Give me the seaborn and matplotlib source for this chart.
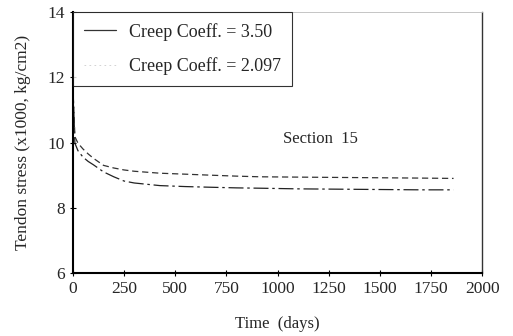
import matplotlib
matplotlib.use("Agg")
import matplotlib.pyplot as plt
import seaborn as sns
import pandas as pd
from matplotlib.lines import Line2D

days = [0, 5, 10, 25, 50, 75, 100, 150, 200, 250, 300, 425, 550, 670, 800, 914, 1100, 1300, 1500, 1700, 1860]
stress_350 = [11.7, 10.9, 9.98, 9.75, 9.55, 9.42, 9.32, 9.10, 8.95, 8.82, 8.76, 8.68, 8.65, 8.63, 8.61, 8.60, 8.58, 8.57, 8.56, 8.55, 8.55]
stress_2097 = [11.7, 11.0, 10.18, 9.98, 9.80, 9.65, 9.52, 9.30, 9.22, 9.16, 9.12, 9.06, 9.03, 9.00, 8.97, 8.95, 8.94, 8.93, 8.92, 8.91, 8.90]
series_labels = ["Creep Coeff. = 3.50", "Creep Coeff. = 2.097"]
x_ticks = [0, 250, 500, 750, 1000, 1250, 1500, 1750, 2000]
y_ticks = [6, 8, 10, 12, 14]

df = pd.DataFrame({
    "days": days * 2,
    "stress": stress_350 + stress_2097,
    "series": [series_labels[0]] * len(days) + [series_labels[1]] * len(days),
})

sns.set_theme(style="white")
plt.rcParams["font.family"] = ["Liberation Serif", "DejaVu Serif"]

fig = plt.figure(figsize=(5.13, 3.36), dpi=100)
ax = fig.add_axes([0.142, 0.1875, 0.798, 0.7765])

sns.lineplot(data=df, x="days", y="stress", hue="series", style="series",
             palette={series_labels[0]: "#222222", series_labels[1]: "#333333"},
             dashes={series_labels[0]: (12, 3, 2, 3), series_labels[1]: (5, 3)},
             linewidth=0.9, ax=ax, legend=False)

ax.set_xlim(0, 2000)
ax.set_ylim(6, 14)
ax.set_xticks(x_ticks)
ax.set_yticks(y_ticks)
ax.set_xticklabels([str(v) for v in x_ticks], fontsize=12.5)
ax.set_yticklabels([str(v) for v in y_ticks], fontsize=12.5)
ax.tick_params(axis="both", direction="inout", length=5, width=0.8, color="black",
               bottom=True, left=True, pad=3)
ax.set_xlabel("Time  (days)", fontsize=12, labelpad=14)
ax.set_ylabel("Tendon stress (x1000, kg/cm2)", fontsize=12.5, labelpad=12)

for side in ["left", "bottom"]:
    ax.spines[side].set_color("black")
    ax.spines[side].set_linewidth(1.5)
ax.spines["right"].set_color("#333333")
ax.spines["right"].set_linewidth(1.0)
ax.spines["top"].set_color("#bbbbbb")
ax.spines["top"].set_linewidth(0.6)

handles = [Line2D([], [], color="#333333", linewidth=0.9, linestyle="-"),
           Line2D([], [], color="#cccccc", linewidth=0.6, linestyle=(0, (2, 4)))]
leg = ax.legend(handles, series_labels, loc="upper left", frameon=True,
                fontsize=13, borderaxespad=0, handlelength=1.8, handletextpad=0.7,
                borderpad=0.6, labelspacing=0.9, fancybox=False)
leg.get_frame().set_edgecolor("black")
leg.get_frame().set_linewidth(0.8)

ax.text(1210, 10.1, "Section  15", fontsize=12, ha="center", va="center")

fig.savefig("out.png", dpi=100)
